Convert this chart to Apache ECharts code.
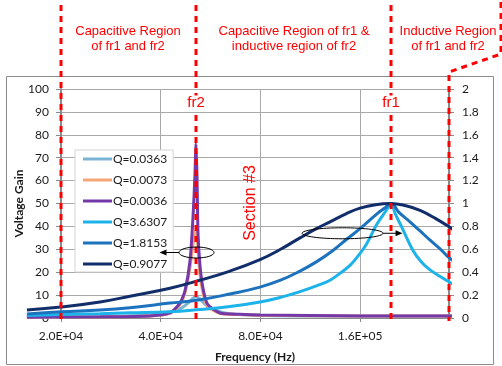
<!DOCTYPE html>
<html><head><meta charset="utf-8">
<script src="https://cdn.jsdelivr.net/npm/echarts@6/dist/echarts.min.js"></script>
<style>html,body{margin:0;padding:0;background:#fff}#c{width:502px;height:366px}</style>
</head><body><div id="c"></div>
<script>
// ---- data (frequency in Hz, voltage gain) ----
const FREQ_REF = 20000;          // first x tick: 2.0E+04 (axis is log base 2 in octaves from this)
const X_MAX = 296800;            // right end of the frequency axis
const F_LO = 15780;              // curves start left of the plotted axis at this frequency
const seriesNames = ['Q=0.0363','Q=0.0073','Q=0.0036','Q=3.6307','Q=1.8153','Q=0.9077'];
const seriesColors = ['#79b5d2','#f6a574','#7438a8','#1cb2ea','#1c72bd','#112e6b'];
const seriesAxis = [0,0,0,1,1,1];   // left axis (0-100) or right axis (0-2)

const fQ0363 = [15780, 26230, 37140, 42660, 45750, 48360, 50070, 51120, 52560, 54430, 57150, 62550, 74430, 105360, 316000];
const gQ0363 = [0.5, 0.7, 1.3, 2.6, 4.0, 6.5, 8.7, 9.3, 8.3, 6.0, 4.0, 2.2, 1.3, 0.9, 0.9];

const fQ0073 = [15780, 26230, 37140, 42660, 45750, 47370, 49040, 50070, 50770, 51120, 51480, 51840, 52560, 53670, 55400, 60410, 69410, 79780, 159900, 316000];
const gQ0073 = [0.3, 0.5, 0.9, 2.0, 6.0, 11, 22, 32, 37, 38, 36, 30, 19, 11, 5, 2.0, 1.5, 1.2, 0.9, 0.9];

const fQ0036 = [15780, 26230, 37140, 42660, 45750, 47370, 49040, 50070, 50770, 51120, 51480, 51840, 52560, 53670, 55400, 60410, 69410, 79780, 159900, 316000];
const gQ0036 = [0.3, 0.5, 0.9, 2.2, 6.5, 12, 25, 44, 63, 76, 62, 37, 23, 13, 6, 2.2, 1.6, 1.3, 0.9, 0.9];

const fQ36307 = [15780, 20000, 26230, 32310, 42660, 52560, 64760, 79780, 92000, 105360, 118000, 129800, 139000, 149100, 156500, 166800, 179900, 192900, 198300, 204300, 214100, 231100, 245000, 260200, 280000, 299000, 316000];
const gQ36307 = [0.022, 0.03, 0.038, 0.045, 0.055, 0.075, 0.10, 0.14, 0.18, 0.23, 0.28, 0.33, 0.39, 0.46, 0.53, 0.64, 0.82, 0.95, 1.0, 0.91, 0.79, 0.59, 0.49, 0.42, 0.36, 0.31, 0.27];

const fQ18153 = [15780, 20000, 26230, 32310, 42660, 52560, 64760, 79780, 92000, 105360, 118000, 132500, 146000, 159900, 179900, 190000, 198300, 210000, 226300, 242700, 260200, 280000, 299000, 316000];
const gQ18153 = [0.035, 0.055, 0.07, 0.09, 0.13, 0.16, 0.21, 0.27, 0.33, 0.41, 0.49, 0.59, 0.69, 0.78, 0.91, 0.96, 1.0, 0.92, 0.84, 0.76, 0.68, 0.60, 0.52, 0.48];

const fQ09077 = [15780, 20000, 26230, 32310, 42660, 52560, 64760, 79780, 92000, 105360, 118000, 129800, 145000, 159900, 178000, 198300, 220000, 242700, 270000, 299000, 316000];
const gQ09077 = [0.07, 0.096, 0.14, 0.19, 0.26, 0.33, 0.41, 0.51, 0.60, 0.70, 0.78, 0.84, 0.91, 0.96, 0.99, 1.0, 0.98, 0.94, 0.87, 0.79, 0.74];

const FR2 = 51120, FR1 = 198300;
const regionFreqs = [20000, FR2, FR1];
const regionTexts = ['Capacitive Region\nof fr1 and fr2', 'Capacitive Region of fr1 &\ninductive region of fr2', 'Inductive Region\nof fr1 and fr2'];
const tickLabels = ['2.0E+04', '4.0E+04', '8.0E+04', '1.6E+05'];

const freqs = [fQ0363, fQ0073, fQ0036, fQ36307, fQ18153, fQ09077];
const gains = [gQ0363, gQ0073, gQ0036, gQ36307, gQ18153, gQ09077];

// ---- chart ----
const oct = f => Math.log2(f / FREQ_REF);   // log-2 frequency scale
const chart = echarts.init(document.getElementById('c'), null, {renderer:'canvas'});
const FONT = 'Lato';
const gridColor = '#a9a9a9', axisColor = '#8a8a8a', txt = '#1a1a1a';
const GL = 61, GR = 53, GT = 89, GB = 48, W = 502;
const plotW = W - GL - GR;
// second (hidden) grid carrying the curves, extended to the left so curves run past the axis as in the source
const GL2 = GL - plotW * (0 - oct(F_LO)) / oct(X_MAX);

chart.setOption({
  animation:false,
  textStyle:{fontFamily:FONT},
  grid:[
    {left:GL, right:GR, top:GT, bottom:GB, containLabel:false, outerBoundsMode:'none'},
    {left:GL2, right:GR, top:GT, bottom:GB, containLabel:false, outerBoundsMode:'none'}
  ],
  legend:{
    data:seriesNames, orient:'vertical', left:75, top:150,
    icon:'rect', itemWidth:29, itemHeight:3, itemGap:9,
    padding:[3,6,2,8], borderColor:'#d4d4d4', borderWidth:1, backgroundColor:'#fff',
    textStyle:{fontFamily:FONT, fontSize:12, color:txt, padding:[0,0,0,-4]}
  },
  xAxis:[{
    gridIndex:0, type:'value', min:0, max:oct(X_MAX), interval:1,
    name:'Frequency (Hz)', nameLocation:'middle', nameGap:33, nameMoveOverlap:false,
    nameTextStyle:{fontFamily:FONT, fontWeight:'bold', fontSize:12, color:txt},
    axisLine:{show:true, lineStyle:{color:axisColor, width:1}},
    axisTick:{show:true, length:4, lineStyle:{color:axisColor}},
    axisLabel:{formatter:v => (Number.isInteger(v) && tickLabels[v]) ? tickLabels[v] : '', margin:12, fontSize:12, color:txt, showMaxLabel:false, showMinLabel:true},
    splitLine:{show:true, lineStyle:{color:gridColor, width:1}}
  },{
    gridIndex:1, type:'value', min:oct(F_LO), max:oct(X_MAX), show:false, splitLine:{show:false}
  }],
  yAxis:[{
    gridIndex:0, type:'value', min:0, max:100, interval:10, position:'left',
    name:'Voltage Gain', nameLocation:'middle', nameGap:36, nameRotate:90, nameMoveOverlap:false,
    nameTextStyle:{fontFamily:FONT, fontWeight:'bold', fontSize:12, color:txt},
    axisLine:{show:true, lineStyle:{color:axisColor, width:2}},
    axisTick:{show:true, length:5, lineStyle:{color:axisColor}},
    axisLabel:{margin:12, fontSize:12, color:txt},
    splitLine:{show:true, lineStyle:{color:gridColor, width:1}}
  },{
    gridIndex:0, type:'value', min:0, max:2, interval:0.2, position:'right',
    axisLine:{show:true, lineStyle:{color:axisColor, width:2}},
    axisTick:{show:true, length:5, lineStyle:{color:axisColor}},
    axisLabel:{margin:13, fontSize:12, color:txt},
    splitLine:{show:false}
  },{
    gridIndex:1, type:'value', min:0, max:100, show:false, splitLine:{show:false}
  },{
    gridIndex:1, type:'value', min:0, max:2, show:false, splitLine:{show:false}
  }],
  series: seriesNames.map((nm,i)=>({
    name:nm, type:'line', xAxisIndex:1, yAxisIndex:2 + seriesAxis[i], symbol:'none', showSymbol:false,
    clip:false, smooth: i<3 ? 0.2 : 0.45,
    color:seriesColors[i],
    lineStyle:{color:seriesColors[i], width:3},
    data: freqs[i].map((f,k)=>[oct(f), gains[i][k]])
  }))
});

// ---- annotations ----
const px = f => chart.convertToPixel({xAxisIndex:0}, oct(f));
const pyL = v => chart.convertToPixel({yAxisIndex:0}, v);
const pyR = v => chart.convertToPixel({yAxisIndex:1}, v);
const red = '#ff0000';
const dash = {stroke:red, lineWidth:3, lineDash:[6,5], fill:null};
const g = [];
g.push({type:'rect', shape:{x:6.5, y:76.5, width:487, height:288}, style:{stroke:'#8c8c8c', fill:null, lineWidth:1}, z:-10, silent:true});
regionFreqs.forEach(f=>{
  const x = Math.round(px(f));
  g.push({type:'line', shape:{x1:x, y1:5, x2:x, y2:321}, style:dash, z:50});
});
const xr = Math.round(px(X_MAX));
g.push({type:'polyline', shape:{points:[[501,2],[501,54],[xr,72],[xr,321]]}, style:dash, z:50});
const textXs = [128, 294, 448];
regionTexts.forEach((t,i)=>{
  g.push({type:'text', style:{text:t, x:textXs[i], y:39, align:'center', verticalAlign:'middle', fill:red, font:'13px "Liberation Sans"', lineHeight:15}, z:60});
});
g.push({type:'text', style:{text:'fr2', x:px(FR2), y:103, align:'center', verticalAlign:'middle', fill:red, font:'15px "Liberation Sans"', backgroundColor:'#fff'}, z:60});
g.push({type:'text', style:{text:'fr1', x:px(FR1), y:103, align:'center', verticalAlign:'middle', fill:red, font:'15px "Liberation Sans"', backgroundColor:'#fff'}, z:60});
g.push({type:'text', x:251, y:203, rotation:Math.PI/2, style:{text:'Section #3', x:0, y:0, align:'center', verticalAlign:'middle', fill:red, font:'16px "Liberation Sans"'}, z:60});
// ellipse + arrow to the left axis
const e1x = px(FR2) + 0.5, e1y = pyL(28.6);
g.push({type:'ellipse', shape:{cx:e1x, cy:e1y, rx:17.5, ry:5.5}, style:{stroke:'#000', fill:null, lineWidth:1}, z:70});
g.push({type:'line', shape:{x1:e1x-17.5, y1:e1y, x2:e1x-31, y2:e1y}, style:{stroke:'#000', lineWidth:1}, z:70});
g.push({type:'polygon', shape:{points:[[e1x-37,e1y],[e1x-30,e1y-3],[e1x-30,e1y+3]]}, style:{fill:'#000'}, z:70});
// ellipse + arrow to the right axis
const e2x = px(141600), e2y = pyR(0.74);
g.push({type:'ellipse', shape:{cx:e2x, cy:e2y, rx:40.5, ry:5.5}, style:{stroke:'#000', fill:null, lineWidth:1}, z:70});
g.push({type:'line', shape:{x1:e2x+40.5, y1:e2y, x2:e2x+54, y2:e2y}, style:{stroke:'#000', lineWidth:1}, z:70});
g.push({type:'polygon', shape:{points:[[e2x+60,e2y],[e2x+53,e2y-3],[e2x+53,e2y+3]]}, style:{fill:'#000'}, z:70});
chart.setOption({graphic:g});
</script></body></html>
